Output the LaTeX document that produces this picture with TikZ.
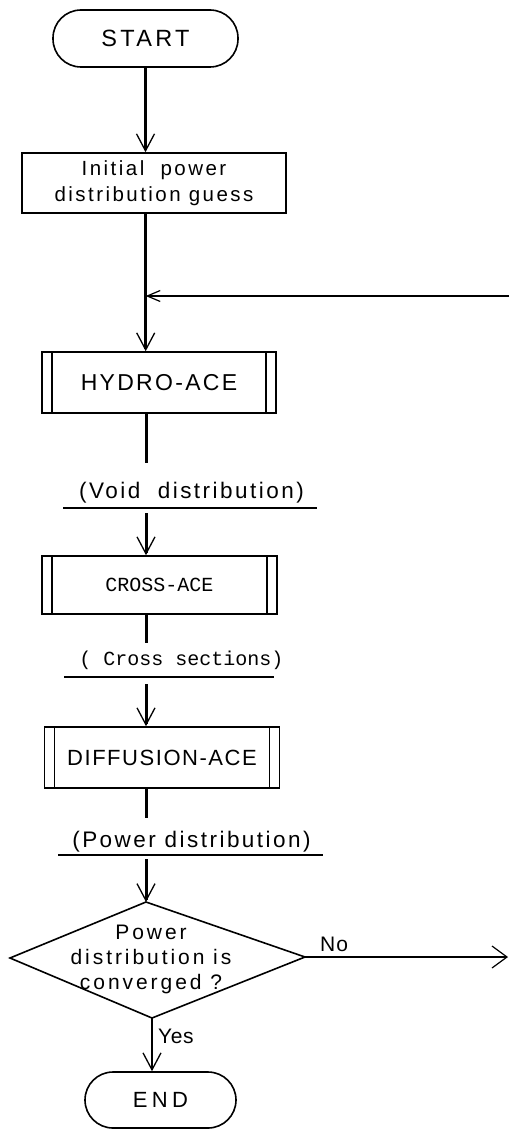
\documentclass[tikz,border=0pt]{standalone}
\usepackage{fontspec}
\setmainfont{Liberation Sans}[LetterSpace=15]
\newfontfamily\twfont{Liberation Mono}
\usetikzlibrary{arrows.meta}

\newcommand\fs[2]{\fontsize{#1}{#2}\selectfont}
\newcommand\ls[1]{\addfontfeature{LetterSpace=#1}}

\begin{document}
\begin{tikzpicture}[x=1pt,y=-1pt,
  flow/.style={line width=3pt},
  thin/.style={line width=1.5pt},
  tip/.style={-{Straight Barb[length=17pt,width=18pt,line width=1.3pt]}},
  box/.style={draw, line width=1.6pt, inner sep=0pt},
  term/.style={box, rounded corners=28pt},
  proc/.style={box, path picture={
      \draw[line width=1.6pt] ([xshift=10pt]path picture bounding box.north west) -- ([xshift=10pt]path picture bounding box.south west);
      \draw[line width=1.6pt] ([xshift=-10pt]path picture bounding box.north east) -- ([xshift=-10pt]path picture bounding box.south east);}},
  lbl/.style={inner sep=0pt, font=\fs{22.5}{26}\ls{11}},
  tw/.style={inner sep=0pt, font=\twfont\fs{20}{24}},
  uline/.style={line width=1.4pt}
]
\useasboundingbox (0,0) rectangle (509,1129);

% terminals and process boxes
\node[term, font=\fs{23.5}{26}\ls{14}, minimum width=185pt, minimum height=57pt] (start) at (145.5,38.5) {START};
\node[box, align=center, font=\fs{20.5}{26}\ls{12}, minimum width=264pt, minimum height=60pt] (init) at (154,183) {Initial~~power\\distribution guess};
\node[proc, font=\fs{23}{26}\ls{10}, minimum width=234pt, minimum height=61pt] (hydro) at (159,382.5) {HYDRO-ACE};
\node[proc, tw, minimum width=235pt, minimum height=58pt] (cross) at (159.5,585) {CROSS-ACE};
\node[proc, font=\fs{22}{26}\ls{7}, minimum width=235pt, minimum height=61pt] (diff) at (162,757.5) {DIFFUSION-ACE};

% data labels
\node[lbl] (voidlbl) at (191.5,493) {(Void~ distribution)};
\node[tw] (crosslbl) at (181.5,660) {( Cross sections)};
\node[lbl] (powlbl) at (191.5,842) {(Power distribution)};
\draw[uline] (63,508) -- (317,508);
\draw[uline] (64,677) -- (274,677);
\draw[uline] (58,855) -- (323,855);

% decision
\coordinate (dtop) at (146,902);
\coordinate (dright) at (305,957);
\coordinate (dbot) at (152,1018);
\coordinate (dleft) at (10,958);
\draw[line width=1.6pt, line join=miter] (dtop) -- (dright) -- (dbot) -- (dleft) -- cycle;
\node[inner sep=0pt, align=center, font=\fs{21}{25}\ls{14}] (dtext) at (151,959) {Power\\distribution is\\converged ?};
\node[term, font=\fs{22}{26}\ls{20}, minimum width=151pt, minimum height=56pt] (end) at (160.5,1100) {END};

% free ends
\coordinate (join) at (145.7,296);
\coordinate (fbin) at (509,296);
\coordinate (hydroout) at (146,463);
\coordinate (voidout) at (146,513);
\coordinate (crossout) at (146,643);
\coordinate (crossin) at (146,684);
\coordinate (diffout) at (146,818);
\coordinate (powout) at (146,859);
\coordinate (noout) at (508,957);

% connectors
\draw[flow, tip] (start.south) -- (start.south |- init.north);
\draw[flow] (init.south -| join) -- (join);
\draw[flow, tip] (join) -- (hydro.north -| join);
\draw[thin, -{Straight Barb[length=13pt,width=11pt,line width=1.2pt]}] (fbin) -- (join);
\draw[flow] (hydro.south -| hydroout) -- (hydroout);
\draw[flow, tip] (voidout) -- (cross.north -| voidout);
\draw[flow] (cross.south -| crossout) -- (crossout);
\draw[flow, tip] (crossin) -- (diff.north -| crossin);
\draw[flow] (diff.south -| diffout) -- (diffout);
\draw[flow, tip] (powout) -- (dtop);
\draw[thin, -{Straight Barb[length=15pt,width=22pt,line width=1.2pt]}] (dright) -- (noout);
\draw[line width=2pt, tip] (dbot) -- (end.north -| dbot);

\node[inner sep=0pt, anchor=west, font=\fs{21}{25}\ls{5}] (nolbl) at (320,944) {No};
\node[inner sep=0pt, anchor=west, font=\fs{21}{25}\ls{3}] (yeslbl) at (158,1036) {Yes};
\end{tikzpicture}
\end{document}
